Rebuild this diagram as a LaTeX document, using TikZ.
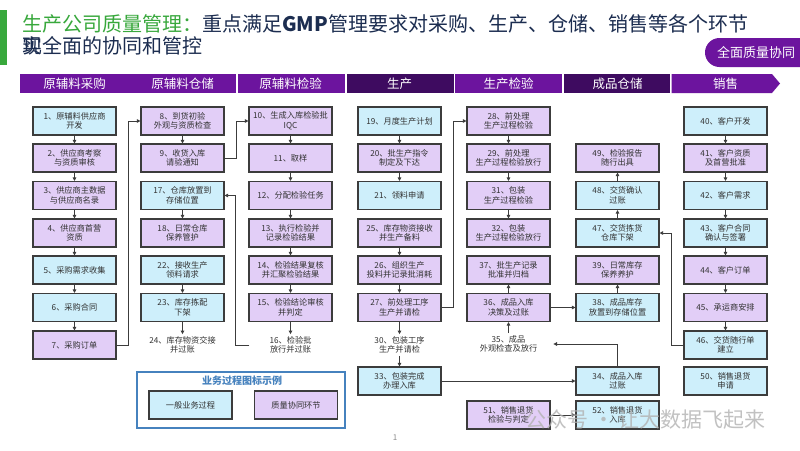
\documentclass[tikz,border=0pt]{standalone}
\usepackage{fontspec}
\setmainfont{Noto Sans CJK SC}
\usetikzlibrary{arrows.meta}
\definecolor{hdrP}{RGB}{108,20,158}
\definecolor{hdrD}{RGB}{62,11,96}
\definecolor{fillB}{RGB}{206,239,251}
\definecolor{fillP}{RGB}{226,206,247}
\definecolor{edge}{RGB}{60,60,60}
\definecolor{txt}{RGB}{50,50,50}
\definecolor{ttlG}{RGB}{56,168,60}
\definecolor{ttlN}{RGB}{28,45,80}
\definecolor{lgdB}{RGB}{70,130,190}
\begin{document}
\begin{tikzpicture}[x=1pt,y=-1pt,
 box/.style={draw=edge,line width=1.1pt,minimum width=83pt,minimum height=28pt,inner sep=0pt,align=center,font=\fontsize{8.2}{9.6}\selectfont,text=txt},
 bbox/.style={box,fill=fillB},
 pbox/.style={box,fill=fillP},
 tnode/.style={inner sep=2pt,align=center,font=\fontsize{8.2}{9.6}\selectfont,text=txt},
 conn/.style={draw=edge,line width=0.9pt,-{Triangle[length=3.6pt,width=3.6pt]}},
 hdr/.style={inner sep=0pt,text=white,font=\fontsize{12.5}{14}\selectfont},
 ttl/.style={anchor=west,inner sep=0pt,font=\fontsize{20}{23}\selectfont},
]
\fill[white] (0,0) rectangle (800,450);
\useasboundingbox (0,0) rectangle (800,450);
% title
\fill[ttlG] (0,10) rectangle (7,65);
\node[ttl] (t1) at (22,24) {\textcolor{ttlG}{生产公司质量管理：}\textcolor{ttlN}{重点满足\textbf{GMP}管理要求对采购、生产、仓储、销售等各个环节}};
\node[ttl] (t2) at (22,46) {\textcolor{ttlN}{现全面的协同和管控}};
\node[ttl] (t2b) at (22,46) {\textcolor{ttlN}{实}};
% tab
\fill[hdrP] (800,38) -- (719.5,38) arc[start angle=270,end angle=90,radius=14.5] -- (800,67) -- cycle;
\node[hdr,font=\fontsize{13}{15}\selectfont] (tab) at (756,52.5) {全面质量协同};
% header bar
\fill[hdrP] (20,74) rectangle (236,93);
\fill[hdrP] (237.5,74) rectangle (345,93);
\fill[hdrD] (346.5,74) rectangle (453.5,93);
\fill[hdrP] (455,74) rectangle (562,93);
\fill[hdrD] (563.5,74) rectangle (670,93);
\fill[hdrP] (671.5,74) -- (772,74) -- (780,83.5) -- (772,93) -- (671.5,93) -- cycle;
\node[hdr] (h1) at (74.5,83.5) {原辅料采购};
\node[hdr] (h2) at (182.5,83.5) {原辅料仓储};
\node[hdr] (h3) at (290.5,83.5) {原辅料检验};
\node[hdr] (h4) at (399.5,83.5) {生产};
\node[hdr] (h5) at (508.5,83.5) {生产检验};
\node[hdr] (h6) at (617.5,83.5) {成品仓储};
\node[hdr] (h7) at (725.5,83.5) {销售};
% column 1
\node[bbox] (n1) at (74.5,121) {1、原辅料供应商\\开发};
\node[pbox] (n2) at (74.5,158) {2、供应商考察\\与资质审核};
\node[pbox] (n3) at (74.5,195.5) {3、供应商主数据\\与供应商名录};
\node[pbox] (n4) at (74.5,233) {4、供应商首营\\资质};
\node[bbox] (n5) at (74.5,270) {5、采购需求收集};
\node[bbox] (n6) at (74.5,307.5) {6、采购合同};
\node[pbox] (n7) at (74.5,345) {7、采购订单};
% column 2
\node[pbox] (n8) at (182.5,121) {8、到货初验\\外观与资质检查};
\node[pbox] (n9) at (182.5,158) {9、收货入库\\请验通知};
\node[bbox] (n17) at (182.5,195.5) {17、仓库放置到\\存储位置};
\node[pbox] (n18) at (182.5,233) {18、日常仓库\\保养管护};
\node[bbox] (n22) at (182.5,270) {22、接收生产\\领料请求};
\node[bbox] (n23) at (182.5,307.5) {23、库存拣配\\下架};
\node[tnode] (n24) at (182.5,345) {24、库存物资交接\\并过账};
% column 3
\node[pbox] (n10) at (290.5,121) {10、生成入库检验批\\IQC};
\node[pbox] (n11) at (290.5,158) {11、取样};
\node[pbox] (n12) at (290.5,195.5) {12、分配检验任务};
\node[pbox] (n13) at (290.5,233) {13、执行检验并\\记录检验结果};
\node[pbox] (n14) at (290.5,270) {14、检验结果复核\\并汇聚检验结果};
\node[pbox] (n15) at (290.5,307.5) {15、检验结论审核\\并判定};
\node[tnode] (n16) at (290.5,345) {16、检验批\\放行并过账};
% column 4
\node[bbox] (n19) at (399.5,121) {19、月度生产计划};
\node[pbox] (n20) at (399.5,158) {20、批生产指令\\制定及下达};
\node[bbox] (n21) at (399.5,195.5) {21、领料申请};
\node[pbox] (n25) at (399.5,233) {25、库存物资接收\\并生产备料};
\node[pbox] (n26) at (399.5,270) {26、组织生产\\投料并记录批消耗};
\node[pbox] (n27) at (399.5,307.5) {27、前处理工序\\生产并请检};
\node[tnode] (n30) at (399.5,345) {30、包装工序\\生产并请检};
\node[bbox] (n33) at (399.5,381) {33、包装完成\\办理入库};
% column 5
\node[pbox] (n28) at (508.5,121) {28、前处理\\生产过程检验};
\node[pbox] (n29) at (508.5,158) {29、前处理\\生产过程检验放行};
\node[pbox] (n31) at (508.5,195.5) {31、包装\\生产过程检验};
\node[pbox] (n32) at (508.5,233) {32、包装\\生产过程检验放行};
\node[pbox] (n37) at (508.5,270) {37、批生产记录\\批准并归档};
\node[pbox] (n36) at (508.5,307.5) {36、成品入库\\决策及过账};
\node[tnode] (n35) at (508.5,344) {35、成品\\外观检查及放行};
\node[pbox] (n51) at (508.5,415) {51、销售退货\\检验与判定};
% column 6
\node[pbox] (n49) at (617.5,158) {49、检验报告\\随行出具};
\node[bbox] (n48) at (617.5,195.5) {48、交货确认\\过账};
\node[bbox] (n47) at (617.5,233) {47、交货拣货\\仓库下架};
\node[pbox] (n39) at (617.5,270) {39、日常库存\\保养养护};
\node[bbox] (n38) at (617.5,307.5) {38、成品库存\\放置到存储位置};
\node[bbox] (n34) at (617.5,381) {34、成品入库\\过账};
\node[bbox] (n52) at (617.5,415) {52、销售退货\\入库};
% column 7
\node[bbox] (n40) at (725.5,121) {40、客户开发};
\node[pbox] (n41) at (725.5,158) {41、客户资质\\及首营批准};
\node[bbox] (n42) at (725.5,195.5) {42、客户需求};
\node[bbox] (n43) at (725.5,233) {43、客户合同\\确认与签署};
\node[pbox] (n44) at (725.5,270) {44、客户订单};
\node[pbox] (n45) at (725.5,307.5) {45、承运商安排};
\node[bbox] (n46) at (725.5,345) {46、交货随行单\\建立};
\node[bbox] (n50) at (725.5,381) {50、销售退货\\申请};
% straight connectors
\foreach \a/\b in {n1/n2,n2/n3,n3/n4,n4/n5,n5/n6,n6/n7,n8/n9,n17/n18,n22/n23,n23/n24,
  n10/n11,n11/n12,n12/n13,n13/n14,n14/n15,n15/n16,n19/n20,n20/n21,n25/n26,n26/n27,n27/n30,n30/n33,
  n28/n29,n29/n31,n31/n32,n35/n36,n36/n37,n36/n38,n38/n39,n47/n48,n48/n49,
  n40/n41,n41/n42,n42/n43,n43/n44,n44/n45,n45/n46,n33/n34,n51/n52}
  \draw[conn] (\a) -- (\b);
% elbow connectors
\draw[conn] (n7.east) -- ++(12,0) |- (n8.west);
\draw[conn] (n9.east) -- ++(12,0) |- (n10.west);
\draw[conn] ([xshift=-18pt]n16.west) -- ++(-14,0) |- (n17.east);
\draw[conn] (n27.east) -- ++(12,0) |- (n28.west);
\draw[conn] (n34.north) |- ([xshift=14pt]n35.east);
\draw[conn] (n46.west) -- ++(-12,0) |- (n47.east);
% legend
\draw[lgdB,line width=1.6pt] (137,372) rectangle (345,428);
\node[text=lgdB,font=\fontsize{10}{12}\selectfont\bfseries] (lt) at (242,381) {业务过程图标示例};
\node[bbox] (lg1) at (190.5,405) {一般业务过程};
\node[pbox] (lg2) at (296,405) {质量协同环节};
% page number
\node[text=black!45,font=\fontsize{8}{9}\selectfont] (pg) at (395,438) {1};
% watermark
\node[anchor=west,text=black!30,opacity=0.8,font=\fontsize{21}{24}\selectfont] (wm) at (522,420) {公众号 · 让大数据飞起来};
\end{tikzpicture}
\end{document}
